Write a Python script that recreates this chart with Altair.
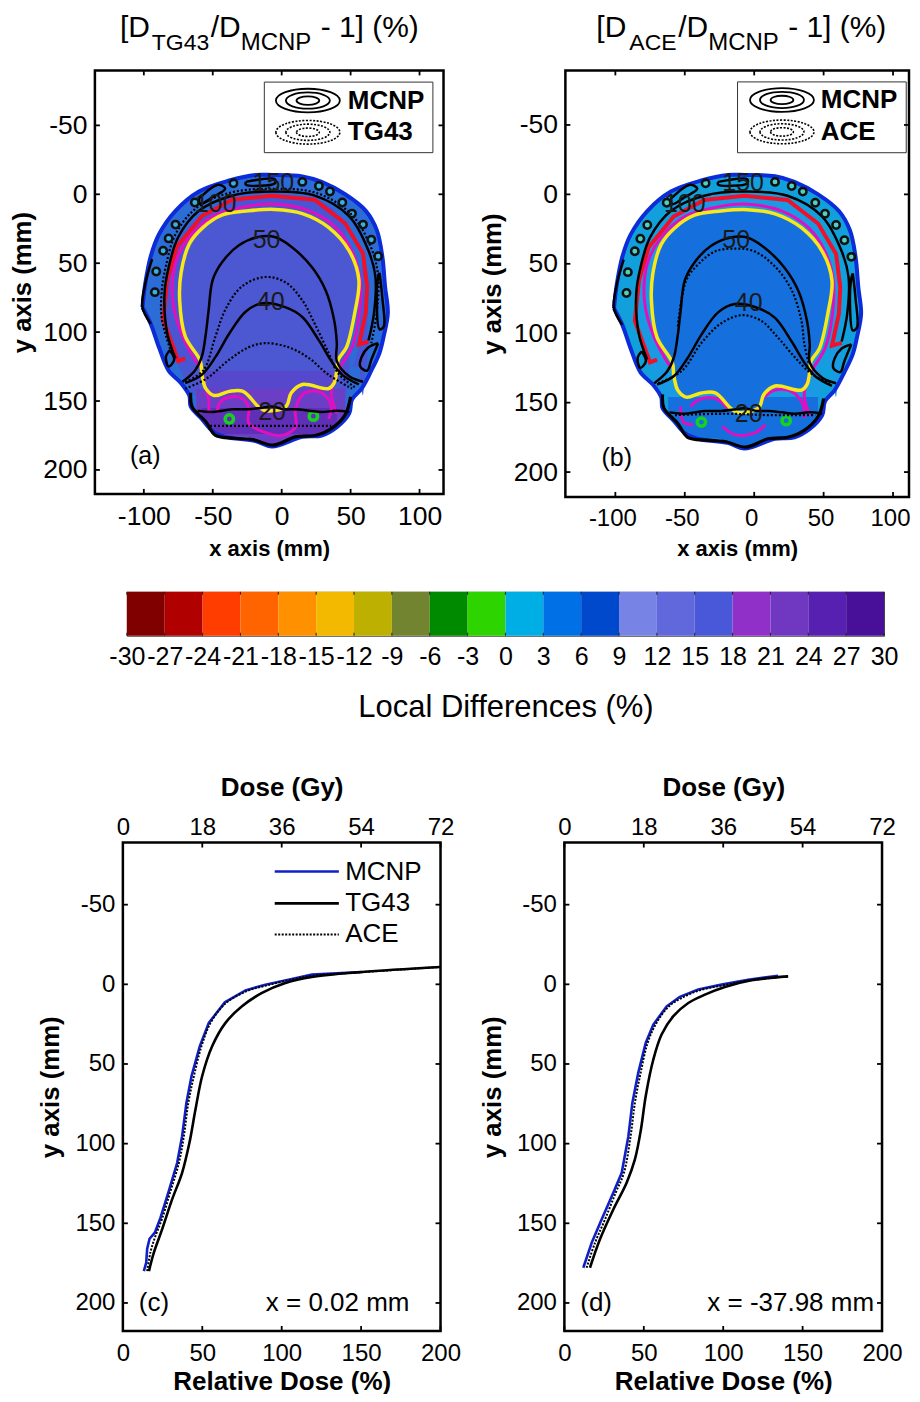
import altair as alt
import pandas as pd

FONT = "Liberation Sans"

# ---- shared digitised geometry (mm) ----
OUT_X = [-101,-99,-95,-89,-82,-77,-73,-67,-66,-60,-58,-50,-41,-38,-26,-19,-7,5,15,29,40,46,49,51,58,61,65,69,71,73,74,75,77]
OUT_T = [82,65,45,29,19,12,9,4,3,-2,-3,-6,-9,-10,-13,-14,-14,-14,-13,-9,-3,0,3,5,9,12,19,26,35,45,52,67,86]
OUT_B = [82,86,94,111,128,133,137,146,154,160,163,172,176,176,176,179,183,178,176,175,169,163,159,149,141,135,128,120,115,107,103,98,86]
BRAIN_X = [-86,-83,-76,-66,-58,-36,-7,24,46,59,62,61,56,50]
BRAIN_T = [91,62,38,22,16,4,1,4,21,43,67,86,109,125]
BRAIN_B = [91,100,121,142,150,160,165,160,150,146,130,125,125,125]
YEL_X = [-74,-73,-70,-67,-59,-57,-55,-49,-43,-38,-28,-24,-17,-12,-5,3,7,15,34,38,41,47,49,53,56]
YEL_T = [77,57,46,36,26,24,22,19,15,14,12,12,12,12,11,12,13,14,24,29,32,39,41,51,62]
YEL_B = [77,83,103,108,121,135,141,146,144,143,143,146,154,157,157,154,144,138,141,137,120,111,103,86,66]

OUTLINE = [(-101,82),(-99,65),(-95,45),(-89,29),(-77,12),(-60,-2),(-38,-10),(-19,-14),(-7,-14),(15,-13),(29,-9),(46,0),(61,12),(69,26),(73,45),(75,67),(77,86),(74,103),(71,115),(65,128),(58,141),(51,149),(49,159),(40,169),(29,175),(15,176),(-7,183),(-19,179),(-41,176),(-50,172),(-58,163),(-66,154),(-67,146),(-73,137),(-82,128),(-89,111),(-95,94),(-101,82)]
YELLOW = [(-57,135),(-58,130),(-59,121),(-70,103),(-74,77),(-73,57),(-67,36),(-57,24),(-43,15),(-24,12),(-5,11),(15,14),(34,24),(49,41),(56,62),(53,86),(47,111),(41,120),(40,128),(38,137),(34,141),(15,138),(7,144),(3,154),(-12,157),(-17,154),(-28,143),(-38,143),(-49,146),(-55,141),(-57,135)]
RED = [(-70,119),(-75,121),(-86,91),(-83,62),(-76,38),(-58,16),(-36,4),(-7,1),(24,4),(46,21),(59,43),(62,67),(61,86),(56,109),(63,107)]
MAG_ARC = [(-60,125),(-72,103),(-79,77),(-77,50),(-67,31),(-50,16),(-31,10),(-7,7),(20,12),(39,24),(51,41),(57,62),(56,89),(51,111),(41,128),(36,144),(40,159)]
MAG_LOW_A = [(-47,159),(-44,150),(-31,147),(-24,154),(-24,166),(-14,172),(0,175),(10,169),(10,156),(17,144),(29,144),(36,154),(34,163)]
MAG_SIDE_A = [(-57,135),(-53,149),(-53,159)]
MAG_LOW_B1 = [(-44,166),(-51,164),(-53,153)]
MAG_LOW_B2 = [(-46,153),(-40,148),(-28,147),(-19,154)]
MAG_LOW_B3 = [(-23,167),(-14,173),(0,172),(8,166)]
MAG_LOW_B4 = [(5,148),(15,141),(27,142),(35,151),(36,161)]
BLACK_ARC = [(-77,119),(-83,101),(-85,72),(-82,53),(-75,31),(-60,12),(-36,1),(-7,-2),(24,1),(49,16),(63,41),(68,60),(67,86),(63,106)]
C50 = [(-72,136),(-63,128),(-58,118),(-55,101),(-53,84),(-50,62),(-43,49),(-31,37),(-17,31),(-5,31),(7,38),(22,53),(32,70),(38,91),(40,108),(40,121),(49,132),(59,136)]
C40 = [(-70,137),(-58,131),(-48,118),(-38,101),(-26,85),(-14,79),(3,82),(15,89),(27,106),(36,121),(44,131),(56,138)]
C20 = [(-61,157),(-50,158),(-43,157),(-35,156),(-24,156),(-15,155),(-7,154),(2,156),(10,156),(20,157),(29,158),(40,157),(49,158)]
JAW_LINE = [(-66,144),(-65,154),(-55,165),(-48,175),(-34,177),(-21,178),(-6,182),(10,176),(24,175),(36,170),(46,160),(50,147)]
LEFT_LINE = [(-95,94),(-101,82),(-99,65),(-94,47)]
LOOP_R1 = [(71,57),(73,75),(74,96),(71,98),(69,80),(70,60),(71,57)]
LOOP_R2 = [(70,108),(65,120),(62,128),(57,125),(58,118),(63,111),(70,108)]
LOOP_T1 = [(-60,3),(-46,-7),(-41,-4),(-50,2),(-59,7),(-60,3)]
LOOP_T2 = [(-26,-9),(-5,-11),(-5,-8),(-26,-7),(-26,-9)]
LOOP_L = [(-81,113),(-78,120),(-82,125),(-84,118),(-81,113)]
RINGS_X = [-92,-91,-86,-82,-77,-63,-35,15,27,35,44,51,59,65,70]
RINGS_Y = [71,56,41,32,22,6,-8,-9,-6,-2,6,14,22,33,45]

# panel (a) TG43 dotted
A_ARC = [(-80,115),(-87,90),(-87,70),(-84,52),(-77,29),(-62,10),(-38,-1),(-7,-4),(25,-1),(50,14),(65,39),(70,60),(69,86),(65,108)]
A_D50 = [(-70,136),(-57,128),(-48,103),(-41,84),(-29,67),(-12,60),(3,64),(15,77),(24,94),(34,115),(41,130),(53,140)]
A_D40 = [(-70,141),(-55,134),(-38,120),(-24,111),(-12,108),(5,111),(20,119),(34,131),(51,141)]
A_D20 = [(-52,168),(36,168)]
# panel (b) ACE dotted
B_D50 = [(-55,95),(-49,62),(-40,50),(-28,41),(-14,39),(0,41),(15,52),(27,69),(34,91),(36,107),(39,121)]
B_D40 = [(-69,136),(-52,127),(-38,107),(-24,93),(-9,87),(5,91),(17,103),(29,117),(41,129),(56,137)]
B_D20 = [(-57,159),(-20,158),(10,159),(44,159)]

X_TICKS = [-100,-50,0,50,100]
Y_TICKS = [-50,0,50,100,150,200]
REL_TICKS = [0,50,100,150,200]
DOSE_TICKS = [0,18,36,54,72]

# colour bar
CB_EDGES = [-30,-27,-24,-21,-18,-15,-12,-9,-6,-3,0,3,6,9,12,15,18,21,24,27,30]
CB_COLORS = ["#800000","#b00000","#ff3d00","#ff6400","#ff9100","#f2b900","#bdb000","#738430","#008a00","#2ed400",
             "#00aee6","#0070e6","#0048cc","#7883e6","#6068dc","#4858d8","#9030c8","#7038c0","#5820b0","#481098"]

# profile curves (relative dose %, y mm)
C_MCNP = [(13.2,180),(14.7,174.7),(15.3,166),(16.8,159.7),(20.1,155.9),(23.7,146.5),(28.9,129.8),(34.2,112),(37.3,95.3),(40,74.4),(43.2,57.7),(48.4,38.9),(54.1,24.2),(64.2,11.3),(77.2,3.8),(89.7,0.2),(106.5,-3.3),(119,-6.1),(150.5,-7.7)]
C_TG43 = [(16.4,180),(19.5,168.4),(24.7,153.8),(31,135),(37.3,118.3),(41.9,99.5),(45.7,78.6),(49.9,57.7),(56.2,38.9),(64.6,24.2),(75,13.8),(87.6,5.4),(102.3,-0.8),(119,-4.6),(150.5,-7.7),(199.8,-10.9)]
C_ACE = [(15.3,180),(17.4,168),(20.5,158),(24.9,146.5),(30,129.8),(35.3,112),(38.4,95.3),(41.2,74.4),(44.7,57.7),(49.5,38.9),(55.2,24.2),(64.6,12),(78.2,4.2),(90.8,0.6),(107.5,-3.3),(120,-5.5),(151.5,-7.7),(199.8,-10.9)]
D_MCNP = [(11.9,177.9),(17.2,162.2),(23.5,147.5),(30.8,130.8),(36.1,118.3),(40.3,95.3),(42.8,74.4),(46.5,55.6),(51.2,36.8),(56,25.3),(64.4,13.8),(72.7,7.9),(84.3,3.3),(99,0.2),(115.7,-2.9),(134.6,-5.4)]
D_TG43 = [(16.1,177.9),(22.4,160),(30.8,141.3),(39.2,124.5),(44.4,109.9),(48.2,91.1),(51.2,70.2),(56,47.2),(61.2,31.5),(68.6,20),(78,11.7),(88.5,6.5),(101,1.7),(117.8,-2.5),(140.9,-5)]
D_ACE = [(14,177.9),(19.3,162.2),(25.6,147.5),(32.3,130.8),(37.5,118.3),(41.7,95.3),(44.4,74.4),(48,55.6),(52.4,36.8),(57.4,25.3),(65.4,14.2),(73.8,8.6),(85.3,3.7),(100,0.6),(116.8,-2.5),(140.9,-5)]

ELLIPSE = "M -1 0 A 1 0.37 0 1 0 1 0 A 1 0.37 0 1 0 -1 0 Z"
ELL_SIZES = [4096, 1936, 520]


def df_pts(p):
    return pd.DataFrame({"x": [a for a, _ in p], "y": [b for _, b in p], "i": range(len(p))})


class P:
    """Panel scales and small layer builders."""
    def __init__(s, xd, yd, w, h):
        s.xs = alt.Scale(domain=xd, nice=False, zero=False)
        s.ys = alt.Scale(domain=[yd[1], yd[0]], nice=False, zero=False)
        s.w, s.h = w, h

    def X(s, f="x", **k):
        return alt.X(f"{f}:Q", scale=s.xs, axis=None, **k)

    def Y(s, f="y", **k):
        return alt.Y(f"{f}:Q", scale=s.ys, axis=None, **k)

    def line(s, p, color="black", width=2.0, dash=None, interp="catmull-rom"):
        kw = dict(color=color, strokeWidth=width, interpolate=interp, clip=True)
        if dash:
            kw["strokeDash"] = dash
        return alt.Chart(df_pts(p)).mark_line(**kw).encode(x=s.X(), y=s.Y(), order="i:Q")

    def area(s, xs, top, bot, color):
        d = pd.DataFrame({"x": xs, "t": top, "b": bot})
        return alt.Chart(d).mark_area(color=color, interpolate="monotone").encode(
            x=s.X(), y=s.Y("t"), y2=alt.Y2("b:Q"))

    def text(s, x, y, t, size, bold=False, align="center", color="black"):
        d = pd.DataFrame({"x": [x], "y": [y], "t": [t]})
        return alt.Chart(d).mark_text(font=FONT, fontSize=size, fontWeight="bold" if bold else "normal",
                                      align=align, baseline="middle", color=color).encode(
            x=s.X(), y=s.Y(), text="t:N")

    def pts(s, xs, ys, shape, size, stroke=None, fill=None, width=1.5, dash=None):
        d = pd.DataFrame({"x": xs, "y": ys})
        kw = dict(shape=shape, size=size, opacity=1)
        if fill:
            kw.update(filled=True, color=fill, strokeWidth=0)
        else:
            kw.update(filled=False, color=stroke, strokeWidth=width)
        if dash:
            kw["strokeDash"] = dash
        return alt.Chart(d).mark_point(**kw).encode(x=s.X(), y=s.Y())

    def ticks(s, xt, yt, n=5):
        dx = pd.DataFrame({"x": xt})
        dy = pd.DataFrame({"y": yt})
        L = []
        for a, b in ((0, n), (s.h - n, s.h)):
            L.append(alt.Chart(dx).mark_rule(color="black", strokeWidth=1.8).encode(
                x=s.X(), y=alt.value(a), y2=alt.value(b)))
        for a, b in ((0, n), (s.w - n, s.w)):
            L.append(alt.Chart(dy).mark_rule(color="black", strokeWidth=1.8).encode(
                y=s.Y(), x=alt.value(a), x2=alt.value(b)))
        return L

    def base(s, xt, yt, xtitle, ytitle, ls, xts, yts, xpad, ypad, lpx=8, lpy=8, xls=None, xlo=0):
        xa = alt.Axis(values=xt, title=xtitle, domain=False, ticks=False, grid=False, labelExpr="toString(datum.value)",
                      labelFont=FONT, labelFontSize=xls or ls, labelOffset=xlo, labelColor="black", labelPadding=lpx, labelFlush=False,
                      labelOverlap=False, titleFont=FONT, titleFontSize=xts, titleFontWeight="bold",
                      titleColor="black", titlePadding=xpad)
        ya = alt.Axis(values=yt, title=ytitle, domain=False, ticks=False, grid=False, labelExpr="toString(datum.value)",
                      labelFont=FONT, labelFontSize=ls, labelColor="black", labelPadding=lpy, labelFlush=False,
                      labelOverlap=False, titleFont=FONT, titleFontSize=yts, titleFontWeight="bold",
                      titleColor="black", titlePadding=ypad)
        d = pd.DataFrame({"x": s.xs.domain, "y": s.ys.domain})
        return alt.Chart(d).mark_point(opacity=0).encode(
            x=alt.X("x:Q", scale=s.xs, axis=xa), y=alt.Y("y:Q", scale=s.ys, axis=ya))

    def title_bits(s, bits):
        L = []
        for x, y, t, size in bits:
            d = pd.DataFrame({"t": [t]})
            L.append(alt.Chart(d).mark_text(font=FONT, fontSize=size, align="left", baseline="alphabetic",
                                            color="black").encode(x=alt.value(x), y=alt.value(y), text="t:N"))
        return L


def head_panel(p, scalp, band, inner, purple_bands, dotted, mag, ring_fill, labels, greens, legend_name,
               ell_xy, box, title, tag, xls=None, xlo=0):
    L = [p.base(X_TICKS, Y_TICKS, "x axis (mm)", "y axis (mm)", 26.5, 22, 25.7, 8, 7.4, lpx=10, xls=xls, xlo=xlo)]
    L.append(p.area(OUT_X, OUT_T, OUT_B, scalp))
    L.append(p.area(BRAIN_X, BRAIN_T, BRAIN_B, band))
    L.append(p.area(YEL_X, YEL_T, YEL_B, inner))
    for top, col, xs_, bs_ in purple_bands:
        L.append(p.area(xs_, [top] * len(xs_), bs_, col))
    L.append(p.pts(RINGS_X, RINGS_Y, "circle", 55, fill=ring_fill))
    L.append(p.line(OUTLINE, color="#0c2cd8", width=4))
    L.append(p.line(RED, color="#f0102a", width=4, interp="linear"))
    for m in mag:
        L.append(p.line(m, color="#e010c0", width=3))
    L.append(p.line(YELLOW, color="#f8e818", width=3.5))
    L.append(p.pts([g[0] for g in greens], [g[1] for g in greens], "circle", 70, stroke="#18d020", width=3.5))
    for c in (BLACK_ARC, C50, C40, C20, LEFT_LINE, LOOP_R1, LOOP_R2, LOOP_T1, LOOP_T2, LOOP_L):
        L.append(p.line(c, width=2.5))
    L.append(p.line(JAW_LINE, width=3.2))
    for c in dotted:
        L.append(p.line(c, width=2.2, dash=[2, 2]))
    L.append(p.pts(RINGS_X, RINGS_Y, "circle", 55, stroke="#101010", width=2.5))
    for x, y, t in labels:
        L.append(p.text(x, y, t, 25, color="#1a1a1a"))
    # in-plot legend
    bd = pd.DataFrame({"x": [box[0]], "x2": [box[1]], "y": [box[2]], "y2": [box[3]]})
    L.append(alt.Chart(bd).mark_rect(fill="white", stroke="#333333", strokeWidth=1).encode(
        x=p.X(), x2="x2:Q", y=p.Y(), y2="y2:Q"))
    for i, sz in enumerate(ELL_SIZES):
        L.append(p.pts([ell_xy[0]], [ell_xy[1]], ELLIPSE, sz, stroke="black", width=1.8))
        L.append(p.pts([ell_xy[0]], [ell_xy[2]], ELLIPSE, sz, stroke="black", width=1.6, dash=[2, 1.5]))
    L.append(p.text(48, ell_xy[1], "MCNP", 26, bold=True, align="left"))
    L.append(p.text(48, ell_xy[2], legend_name, 26, bold=True, align="left"))
    L.append(p.text(tag[0], tag[1], tag[2], 25, align="left"))
    L += p.ticks(X_TICKS, Y_TICKS)
    L += p.title_bits(title)
    return alt.layer(*L).resolve_axis(x="independent", y="independent").properties(width=p.w, height=p.h)


pa = P([-135.5, 117.4], [-89.9, 217.4], 349, 424)
pb = P([-136, 111.5], [-89.3, 217.9], 344, 427)

JAW_W_X = [-62, -58, -50, -41, -26, -19, -7, 5, 15, 29, 40, 46]
JAW_W_B = [158, 163, 172, 176, 176, 179, 183, 178, 176, 175, 169, 163]
JAW_M_X = [-58, -50, -41, -26, -19, -7, 5, 15, 29, 40]
JAW_M_B = [163, 172, 174, 174, 174, 174, 174, 174, 173, 169]

a = head_panel(
    pa, "#2c6cd6", "#4a55d4", "#4b58d2",
    [(128, "#5548cc", [-57, -26, 5, 38], [140, 160, 160, 140]),
     (141, "#6a3fc6", JAW_W_X, JAW_W_B),
     (155, "#5f2fb8", JAW_M_X, JAW_M_B)],
    [A_ARC, A_D50, A_D40, A_D20],
    [MAG_ARC, MAG_LOW_A, MAG_SIDE_A],
    "#38b0e0",
    [(-6, -8, "150"), (-48, 7, "100"), (-11, 33, "50"), (-8, 78, "40"), (-7, 158, "20")],
    [(-38, 163), (23, 161)], "TG43", (19, -68, -45), (-12.6, 109.7, -81.4, -30.2),
    [(25, -33, "[D", 30), (57, -20, "TG43", 23), (116, -33, "/D", 30), (146, -20, "MCNP", 24), (226, -33, "- 1] (%)", 30)],
    (-110, 190, "(a)"))

b = head_panel(
    pb, "#12a0dc", "#1a9ae2", "#1570dd",
    [(146, "#1570dd", JAW_W_X, JAW_W_B)],
    [B_D50, B_D40, B_D20],
    [MAG_ARC, MAG_LOW_B1, MAG_LOW_B2, MAG_LOW_B3, MAG_LOW_B4],
    "#50d0c0",
    [(-8, -8, "150"), (-50, 7, "100"), (-13, 33, "50"), (-4, 78, "40"), (-4, 158, "20")],
    [(-38, 164), (23, 163)], "ACE", (20, -68, -45), (-12, 109.5, -81, -30),
    [(31, -33, "[D", 30), (64, -20, "ACE", 23), (113, -33, "/D", 30), (143, -20, "MCNP", 24), (223, -33, "- 1] (%)", 30)],
    (-110, 190, "(b)"), xls=24, xlo=-3)


def spacer(w, h):
    d = pd.DataFrame({"x": [0]})
    return alt.Chart(d).mark_point(opacity=0).encode(x=alt.value(0), y=alt.value(0)).properties(
        width=w, height=h, view=alt.ViewBackground(stroke="transparent"))


# colour bar
cb_df = pd.DataFrame({"lo": CB_EDGES[:-1], "hi": CB_EDGES[1:], "c": CB_COLORS})
cb_scale = alt.Scale(domain=[-30, 30], nice=False, zero=False)
cb_rect = alt.Chart(cb_df).mark_rect().encode(
    x=alt.X("lo:Q", scale=cb_scale, axis=alt.Axis(
        values=CB_EDGES, title="Local Differences (%)", domain=False, ticks=False, grid=False,
        labelExpr="toString(datum.value)", labelFont=FONT, labelFontSize=25, labelColor="black", labelPadding=9,
        labelOverlap=False, labelFlush=False, titleFont=FONT, titleFontSize=31, titleFontWeight="normal",
        titleColor="black", titlePadding=23)),
    x2="hi:Q", y=alt.value(0), y2=alt.value(44), color=alt.Color("c:N", scale=None))
cb_t = [alt.Chart(pd.DataFrame({"x": CB_EDGES})).mark_rule(color="#222222", strokeWidth=1).encode(
    x=alt.X("x:Q", scale=cb_scale, axis=None), y=alt.value(q), y2=alt.value(q + 3)) for q in (0, 41)]
colorbar = alt.layer(cb_rect, *cb_t).resolve_axis(x="independent").properties(width=758, height=44, view=alt.ViewBackground(stroke="#444444", strokeWidth=1))


def profile_panel(mcnp, tg, ace, legend, note):
    p = P([0, 200], [-89, 217.6], 318, 489)
    L = [p.base(REL_TICKS, Y_TICKS, "Relative Dose (%)", "y axis (mm)", 24, 26, 25.8, 3, 11, lpx=11)]
    L.append(p.line(mcnp, color="#1020c8", width=2.6, interp="linear"))
    L.append(p.line(tg, width=2.6))
    L.append(p.line(ace, width=2, dash=[2, 1.5]))
    if legend:
        for yy, t, col, w, dash in ((-70.8, "MCNP", "#1020c8", 2.6, None), (-50.8, "TG43", "black", 2.6, None), (-31.3, "ACE", "black", 2, [2, 1.5])):
            L.append(p.line([(95.6, yy), (136, yy)], color=col, width=w, dash=dash, interp="linear"))
            L.append(p.text(140, yy, t, 26, align="left"))
    L.append(p.text(note[0], 200, note[2], 26, align="left"))
    L.append(p.text(note[1], 200, note[3], 26, align="left"))
    L += p.ticks(REL_TICKS, Y_TICKS)
    dose_scale = alt.Scale(domain=[0, 72], nice=False, zero=False)
    dose = alt.Chart(pd.DataFrame({"x": DOSE_TICKS})).mark_point(opacity=0).encode(
        x=alt.X("x:Q", scale=dose_scale, axis=alt.Axis(
            orient="top", values=DOSE_TICKS, title="Dose (Gy)", domain=False, ticks=False, grid=False,
            labelFont=FONT, labelFontSize=24, labelColor="black", labelPadding=3, labelFlush=False, labelOverlap=False,
            titleFont=FONT, titleFontSize=26, titleFontWeight="bold", titleColor="black", titlePadding=15)))
    return alt.layer(*L, dose).resolve_scale(x="independent").resolve_axis(x="independent", y="independent").properties(width=318, height=489)


c = profile_panel(C_MCNP, C_TG43, C_ACE, True, (10, 90, "(c)", "x = 0.02 mm"))
d = profile_panel(D_MCNP, D_TG43, D_ACE, False, (10, 90, "(d)", "x = -37.98 mm"))

row1 = alt.hconcat(spacer(1, 424), alt.hconcat(a, b, spacing=31), spacing=0)
row2 = alt.hconcat(spacer(102.4, 153.6), colorbar, spacing=0)
row3 = alt.hconcat(spacer(30.7, 489), alt.hconcat(c, d, spacing=15), spacing=0)

chart = alt.vconcat(row1, row2, row3, spacing=26).properties(padding={"left": -8, "top": 2.7, "right": -1, "bottom": -4}).configure_view(
    stroke="black", strokeWidth=2.5)

chart.save("out.html", embed_options={"renderer": "svg", "actions": False})
